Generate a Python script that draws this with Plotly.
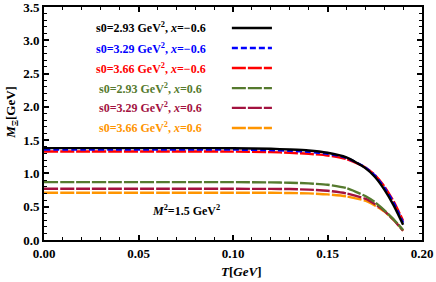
import plotly.graph_objects as go

T = [0.0, 0.02, 0.04, 0.06, 0.08, 0.10, 0.12, 0.13, 0.14, 0.15, 0.16, 0.17, 0.175, 0.18, 0.185, 0.19]

m_black = [1.38, 1.38, 1.38, 1.38, 1.38, 1.378, 1.37, 1.36, 1.345, 1.31, 1.24, 1.08, 0.95, 0.76, 0.52, 0.23]
m_blue = [1.36, 1.36, 1.36, 1.36, 1.36, 1.358, 1.35, 1.34, 1.325, 1.295, 1.235, 1.09, 0.97, 0.79, 0.56, 0.26]
m_red = [1.33, 1.33, 1.33, 1.33, 1.33, 1.328, 1.32, 1.31, 1.295, 1.27, 1.215, 1.09, 0.98, 0.81, 0.58, 0.29]
m_green = [0.87, 0.87, 0.87, 0.87, 0.87, 0.869, 0.865, 0.86, 0.85, 0.83, 0.78, 0.66, 0.57, 0.45, 0.31, 0.15]
m_crimson = [0.77, 0.77, 0.77, 0.77, 0.77, 0.769, 0.768, 0.765, 0.757, 0.74, 0.70, 0.62, 0.54, 0.44, 0.30, 0.14]
m_orange = [0.71, 0.71, 0.71, 0.71, 0.71, 0.709, 0.709, 0.706, 0.70, 0.685, 0.655, 0.59, 0.52, 0.43, 0.30, 0.14]

labels = [
    "s0=2.93 GeV<sup>2</sup>, <i>x</i>=\u22120.6",
    "s0=3.29 GeV<sup>2</sup>, <i>x</i>=\u22120.6",
    "s0=3.66 GeV<sup>2</sup>, <i>x</i>=\u22120.6",
    "s0=2.93 GeV<sup>2</sup>, <i>x</i>=0.6",
    "s0=3.29 GeV<sup>2</sup>, <i>x</i>=0.6",
    "s0=3.66 GeV<sup>2</sup>, <i>x</i>=0.6",
]
series = [m_black, m_blue, m_red, m_green, m_crimson, m_orange]
colors = ["#000000", "#0000ff", "#ff0000", "#557a2e", "#a3123f", "#ff9500"]
dashes = ["solid", "6px,3px", "14px,2px", "14px,2px", "14px,2px", "14px,2px"]

serif = "Liberation Serif"
fig = go.Figure()
order = [5, 4, 3, 2, 1, 0]
for i in order:
    fig.add_trace(go.Scatter(
        x=T, y=series[i], mode="lines",
        line=dict(color=colors[i], width=2.4, dash=dashes[i], shape="spline", smoothing=0.6),
        showlegend=False, hoverinfo="skip"))

row_y = [0.91, 0.824, 0.738, 0.652, 0.567, 0.481]
for i in range(6):
    fig.add_annotation(x=0.283, y=row_y[i], xref="paper", yref="paper", text="<b>" + labels[i] + "</b>",
                       showarrow=False, font=dict(family=serif, size=12, color=colors[i]),
                       xanchor="center", yanchor="middle")
    fig.add_shape(type="line", xref="paper", yref="paper", x0=0.497, x1=0.603, y0=row_y[i], y1=row_y[i],
                  line=dict(color=colors[i], width=2.4, dash=dashes[i]))

fig.add_annotation(x=0.075, y=0.45, xref="x", yref="y", text="<b><i>M</i><sup>2</sup>=1.5 GeV<sup>2</sup></b>",
                   showarrow=False, font=dict(family=serif, size=12, color="black"))

# axis titles as annotations
fig.add_annotation(x=0.522, y=-0.095, xref="paper", yref="paper", text="<b><i>T</i>[<i>GeV</i>]</b>",
                   showarrow=False, xanchor="center", yanchor="top",
                   font=dict(family=serif, size=13, color="black"))
fig.add_annotation(x=-0.085, y=0.55, xref="paper", yref="paper", text="<b><i>M</i><sub>\u039e</sub>[GeV]</b>",
                   showarrow=False, xanchor="center", yanchor="middle", textangle=-90,
                   font=dict(family=serif, size=13, color="black"))

axis_common = dict(showline=True, linewidth=2, linecolor="black", mirror="allticks", ticks="inside",
                   ticklen=5, tickwidth=1.5, tickcolor="black", showgrid=False, zeroline=False,
                   automargin=False, ticklabeloverflow="allow",
                   tickfont=dict(family=serif, size=13, color="black"))
fig.update_xaxes(range=[0, 0.2], dtick=0.05, tickformat=".2f",
                 minor=dict(dtick=0.01, ticks="inside", ticklen=3, tickwidth=1.2, tickcolor="black"),
                 **axis_common)
fig.update_yaxes(range=[0, 3.5], dtick=0.5, tickformat=".1f",
                 minor=dict(dtick=0.1, ticks="inside", ticklen=3, tickwidth=1.2, tickcolor="black"),
                 **axis_common)
fig.update_layout(width=436, height=282, margin=dict(l=44, r=14, t=7, b=42),
                  plot_bgcolor="white", paper_bgcolor="white")
fig.for_each_xaxis(lambda a: a.update(tickprefix="<b>", ticksuffix="</b>"))
fig.for_each_yaxis(lambda a: a.update(tickprefix="<b>", ticksuffix="</b>"))
fig.write_html("out.html", config={"displayModeBar": False},
               post_script="document.body.style.margin='0';document.body.style.overflow='hidden';")
